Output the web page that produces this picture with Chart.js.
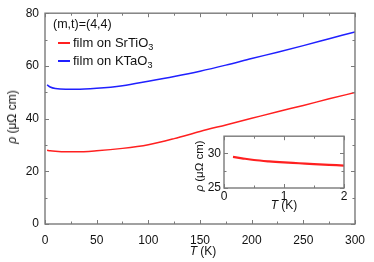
<!DOCTYPE html>
<html><head><meta charset="utf-8">
<script src="https://cdn.jsdelivr.net/npm/chart.js@4.4.1/dist/chart.umd.min.js"></script>
<style>
html,body{margin:0;padding:0;background:#fff;}
#wrap{position:relative;width:374px;height:262px;overflow:hidden;font-family:"Liberation Sans",Arial,sans-serif;color:#111;}
canvas{position:absolute;}
.t{position:absolute;white-space:nowrap;line-height:1;}
.rot{transform:translate(-50%,-50%) rotate(-90deg);}
.ctr{transform:translate(-50%,-50%);}
i{font-style:italic;}
sub{font-size:70%;vertical-align:-3px;line-height:0;}
.sw{position:absolute;height:1.6px;width:12px;}
</style></head>
<body><div id="wrap">
<canvas id="main" width="374" height="262" style="left:0;top:0;width:374px;height:262px"></canvas>
<canvas id="inset" width="160" height="90" style="left:190px;top:126px;width:160px;height:90px"></canvas>
<div class="t rot" style="left:12px;top:117px;font-size:12px"><i>ρ</i> (μΩ cm)</div>
<div class="t ctr" style="left:203px;top:251px;font-size:12px"><i>T</i> (K)</div>
<div class="t rot" style="left:200px;top:166px;font-size:11.5px"><i>ρ</i> (μΩ cm)</div>
<div class="t ctr" style="left:284px;top:205px;font-size:12px"><i>T</i> (K)</div>
<div class="t" style="left:53px;top:18px;font-size:12.5px">(m,t)=(4,4)</div>
<div class="sw" style="left:58px;top:42px;background:#ff2020"></div>
<div class="t" style="left:73px;top:36px;font-size:13px">film on SrTiO<sub>3</sub></div>
<div class="sw" style="left:58px;top:60px;background:#2020ff"></div>
<div class="t" style="left:73px;top:54px;font-size:13px">film on KTaO<sub>3</sub></div>
</div>
<script>
// ---- data ----
const T_main = [2,5,10,20,30,50,75,100,125,150,175,200,225,250,275,300];
const rho_STO = [28.0,27.8,27.6,27.4,27.4,27.8,28.7,30.1,32.4,35.1,37.6,40.1,42.6,45.0,47.5,49.9];
const rho_KTO = [52.8,52.0,51.4,51.1,51.1,51.5,52.5,54.2,56.0,58.0,60.3,62.8,65.2,67.7,70.3,72.9];
const xTicksMain = [0,50,100,150,200,250,300];
const yTicksMain = [0,20,40,60,80];
const T_inset = [0.15,0.3,0.5,0.75,1.0,1.25,1.5,1.75,2.0];
const rho_inset = [29.5,29.3,29.05,28.85,28.7,28.58,28.45,28.35,28.25];
const xTicksInset = [0,1,2];
const yTicksInset = [25,30];

const FONT = "'Liberation Sans', Arial, sans-serif";
const frameTicks = {
  id:'frameTicks',
  beforeDraw(chart,args,o){
    if(o.fill){const a=chart.chartArea;const c=chart.ctx;c.save();c.fillStyle='#fff';c.fillRect(a.left,a.top,a.right-a.left,a.bottom-a.top);c.restore();}
  },
  afterDraw(chart,args,o){
    const c=chart.ctx,a=chart.chartArea,x=chart.scales.x,y=chart.scales.y;
    c.save();c.strokeStyle='#7a7a7a';c.lineWidth=1.4;
    c.strokeRect(a.left,a.top,a.right-a.left,a.bottom-a.top);
    c.beginPath();
    const xt=x.ticks.map(t=>t.value), yt=y.ticks.map(t=>t.value);
    const xm=[],ym=[];
    for(let i=0;i<xt.length-1;i++){const s=(xt[i+1]-xt[i])/o.xMinor;for(let k=1;k<o.xMinor;k++)xm.push(xt[i]+k*s);}
    for(let i=0;i<yt.length-1;i++){const s=(yt[i+1]-yt[i])/o.yMinor;for(let k=1;k<o.yMinor;k++)ym.push(yt[i]+k*s);}
    if(o.yExtra){const s=(yt[1]-yt[0])/o.yMinor;let v=yt[yt.length-1]+s;while(v<y.max){ym.push(v);v+=s;}}
    const vx=(v,L)=>{const p=Math.round(x.getPixelForValue(v))+0.5;c.moveTo(p,a.bottom);c.lineTo(p,a.bottom-L);c.moveTo(p,a.top);c.lineTo(p,a.top+L);};
    const vy=(v,L)=>{const p=Math.round(y.getPixelForValue(v))+0.5;c.moveTo(a.left,p);c.lineTo(a.left+L,p);c.moveTo(a.right,p);c.lineTo(a.right-L,p);};
    xt.forEach(v=>vx(v,o.maj));xm.forEach(v=>vx(v,o.min));
    yt.forEach(v=>vy(v,o.maj));ym.forEach(v=>vy(v,o.min));
    c.lineWidth=1;c.stroke();c.restore();
  }
};

function axis(min,max,ticksArr,fit,pad){
  return {type:'linear',min,max,
    grid:{display:false,drawTicks:false},border:{display:false},
    ticks:{padding:pad,color:'#111',font:{family:FONT,size:12},autoSkip:false,maxRotation:0},
    afterBuildTicks:s=>{s.ticks=ticksArr.map(v=>({value:v}));},
    afterFit:fit};
}

new Chart(document.getElementById('main'),{
  type:'line',
  data:{labels:T_main,datasets:[
    {data:T_main.map((t,i)=>({x:t,y:rho_STO[i]})),borderColor:'#ff2020',borderWidth:1.5,pointRadius:0,cubicInterpolationMode:'monotone',fill:false},
    {data:T_main.map((t,i)=>({x:t,y:rho_KTO[i]})),borderColor:'#2020ff',borderWidth:1.5,pointRadius:0,cubicInterpolationMode:'monotone',fill:false}
  ]},
  options:{responsive:false,animation:false,devicePixelRatio:1,
    layout:{padding:{left:0,top:10,right:18,bottom:0}},
    plugins:{legend:{display:false},tooltip:{enabled:false},
      frameTicks:{xMinor:2,yMinor:2,maj:4,min:2.5}},
    scales:{
      x:axis(0,300,xTicksMain,s=>{s.height=38;},9),
      y:axis(0,80,yTicksMain,s=>{s.width=45;},6)
    }},
  plugins:[frameTicks]
});

new Chart(document.getElementById('inset'),{
  type:'line',
  data:{labels:T_inset,datasets:[
    {data:T_inset.map((t,i)=>({x:t,y:rho_inset[i]})),borderColor:'#ff2020',borderWidth:2.2,pointRadius:0,cubicInterpolationMode:'monotone',fill:false}
  ]},
  options:{responsive:false,animation:false,devicePixelRatio:1,
    layout:{padding:{left:0,top:5,right:6,bottom:0}},
    plugins:{legend:{display:false},tooltip:{enabled:false},
      frameTicks:{fill:true,xMinor:2,yMinor:2,maj:4,min:2.5,yExtra:true}},
    scales:{
      x:axis(0,2,xTicksInset,s=>{s.height=28;},1),
      y:axis(25,32.5,yTicksInset,s=>{s.width=34;},3)
    }},
  plugins:[frameTicks]
});
</script>
</body></html>
